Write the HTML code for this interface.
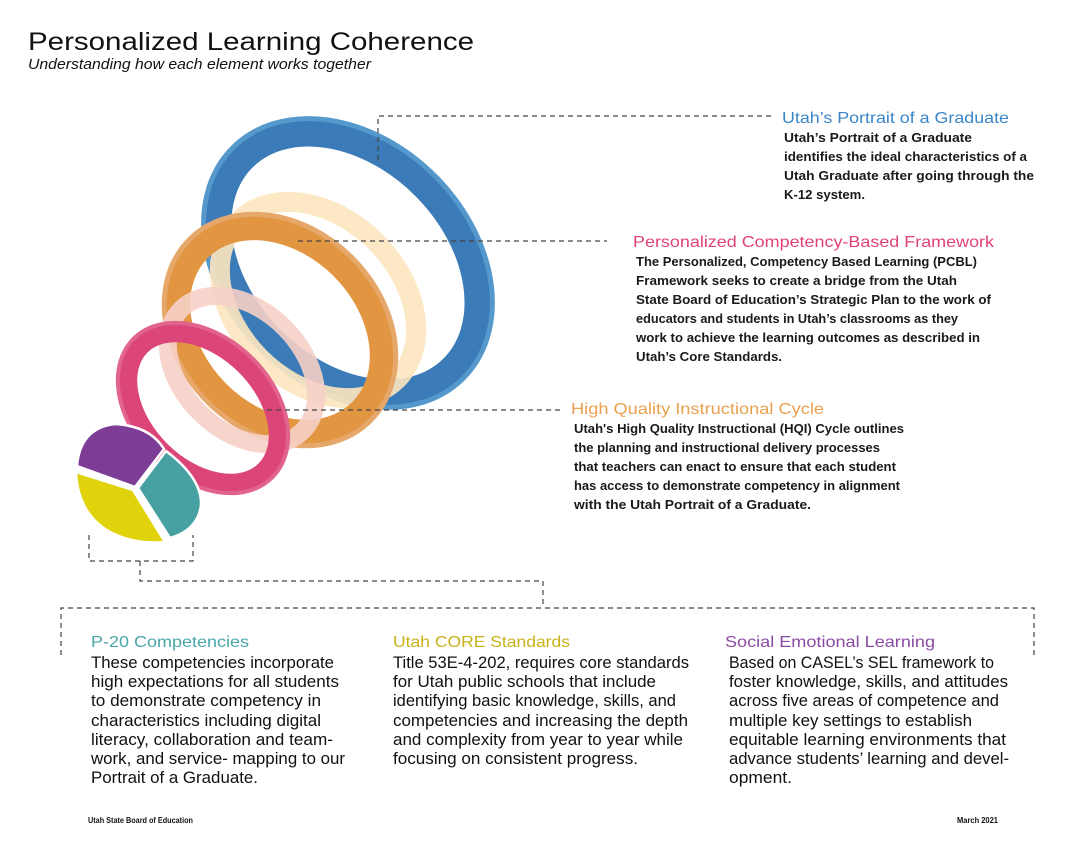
<!DOCTYPE html>
<html><head><meta charset="utf-8"><style>
html,body{margin:0;padding:0;background:#fff;}
svg{display:block;}
.t{font-family:"Liberation Sans",sans-serif;}
.b{font-family:"Liberation Sans",sans-serif;font-size:13px;font-weight:bold;fill:#1a1a1a;}
.n{font-family:"Liberation Sans Narrow","Liberation Sans",sans-serif;font-size:16.5px;fill:#111;}
.d{stroke:#444;stroke-width:1.2;stroke-dasharray:5,4;fill:none;}
</style></head><body>
<svg width="1089" height="856" viewBox="0 0 1089 856" xmlns="http://www.w3.org/2000/svg">
<rect width="1089" height="856" fill="#fff"/>
<text class="t" x="28" y="50" font-size="25" fill="#111" textLength="446" lengthAdjust="spacingAndGlyphs">Personalized Learning Coherence</text>
<text class="t" x="28" y="69" font-size="15" font-style="italic" fill="#111" textLength="343" lengthAdjust="spacingAndGlyphs">Understanding how each element works together</text>

<!-- rings -->
<g transform="translate(348,263) rotate(45)">
  <ellipse rx="150" ry="110" fill="none" stroke="#3b7bb8" stroke-width="30"/>
  <ellipse rx="163" ry="123" fill="none" stroke="#5598cb" stroke-width="5"/>
</g>
<g transform="translate(318,300) rotate(45)">
  <ellipse rx="112" ry="82" fill="none" stroke="#fde6bf" stroke-width="20" opacity="0.9"/>
</g>
<g transform="translate(280,330) rotate(45)">
  <ellipse rx="116" ry="90" fill="none" stroke="#e29642" stroke-width="28"/>
  <ellipse rx="128" ry="102" fill="none" stroke="#e6a86a" stroke-width="5"/>
</g>
<g transform="translate(242,370) rotate(45)">
  <ellipse rx="86" ry="60" fill="none" stroke="#f6cfc6" stroke-width="18" opacity="0.9"/>
</g>
<g transform="translate(203,408) rotate(45)">
  <ellipse rx="89" ry="61" fill="none" stroke="#dc4577" stroke-width="21"/>
  <ellipse rx="98" ry="70" fill="none" stroke="#e2648d" stroke-width="4"/>
</g>
<!-- pie -->
<g stroke="#fff" stroke-width="2.5" stroke-linejoin="round">
  <path d="M135,487 L77,466 Q80,428 115,424 Q150,426 164,449 Z" fill="#7d3d96"/>
  <path d="M138,488 L166,451 Q202,478 201,505 Q198,530 170,538 Z" fill="#47a1a3"/>
  <path d="M133,490 L76,472 Q78,514 110,532 Q135,545 165,542 Z" fill="#e0d20b"/>
</g>

<!-- dashed connectors -->
<path class="d" d="M378,160 V116 H775"/>
<path class="d" d="M298,241 H607"/>
<path class="d" d="M267,410 H560"/>
<path class="d" d="M89,535 V561 H193 V535"/>
<path class="d" d="M140,561 V581 H543 V608"/>
<path class="d" d="M61,655 V608 H1034 V655"/>

<!-- right texts -->
<text class="t" x="782" y="123" font-size="16" fill="#3a86c8" textLength="227" lengthAdjust="spacingAndGlyphs">Utah’s Portrait of a Graduate</text>
<text class="b" x="784" y="142" textLength="188" lengthAdjust="spacingAndGlyphs">Utah’s Portrait of a Graduate</text>
<text class="b" x="784" y="161" textLength="243" lengthAdjust="spacingAndGlyphs">identifies the ideal characteristics of a</text>
<text class="b" x="784" y="180" textLength="250" lengthAdjust="spacingAndGlyphs">Utah Graduate after going through the</text>
<text class="b" x="784" y="199" textLength="81" lengthAdjust="spacingAndGlyphs">K-12 system.</text>

<text class="t" x="633" y="247" font-size="16" fill="#e0417a" textLength="361" lengthAdjust="spacingAndGlyphs">Personalized Competency-Based Framework</text>
<text class="b" x="636" y="266" textLength="341" lengthAdjust="spacingAndGlyphs">The Personalized, Competency Based Learning (PCBL)</text>
<text class="b" x="636" y="285" textLength="321" lengthAdjust="spacingAndGlyphs">Framework seeks to create a bridge from the Utah</text>
<text class="b" x="636" y="304" textLength="355" lengthAdjust="spacingAndGlyphs">State Board of Education’s Strategic Plan to the work of</text>
<text class="b" x="636" y="323" textLength="322" lengthAdjust="spacingAndGlyphs">educators and students in Utah’s classrooms as they</text>
<text class="b" x="636" y="342" textLength="344" lengthAdjust="spacingAndGlyphs">work to achieve the learning outcomes as described in</text>
<text class="b" x="636" y="361" textLength="146" lengthAdjust="spacingAndGlyphs">Utah’s Core Standards.</text>

<text class="t" x="571" y="414" font-size="16" fill="#eba04f" textLength="253" lengthAdjust="spacingAndGlyphs">High Quality Instructional Cycle</text>
<text class="b" x="574" y="433" textLength="330" lengthAdjust="spacingAndGlyphs">Utah's High Quality Instructional (HQI) Cycle outlines</text>
<text class="b" x="574" y="452" textLength="306" lengthAdjust="spacingAndGlyphs">the planning and instructional delivery processes</text>
<text class="b" x="574" y="471" textLength="322" lengthAdjust="spacingAndGlyphs">that teachers can enact to ensure that each student</text>
<text class="b" x="574" y="490" textLength="326" lengthAdjust="spacingAndGlyphs">has access to demonstrate competency in alignment</text>
<text class="b" x="574" y="509" textLength="237" lengthAdjust="spacingAndGlyphs">with the Utah Portrait of a Graduate.</text>

<!-- bottom columns -->
<text class="t" x="91" y="647" font-size="16" fill="#47a6a8" textLength="158" lengthAdjust="spacingAndGlyphs">P-20 Competencies</text>
<text class="n" x="91" y="668" textLength="243" lengthAdjust="spacingAndGlyphs">These competencies incorporate</text>
<text class="n" x="91" y="687" textLength="248" lengthAdjust="spacingAndGlyphs">high expectations for all students</text>
<text class="n" x="91" y="706" textLength="230" lengthAdjust="spacingAndGlyphs">to demonstrate competency in</text>
<text class="n" x="91" y="726" textLength="230" lengthAdjust="spacingAndGlyphs">characteristics including digital</text>
<text class="n" x="91" y="745" textLength="242" lengthAdjust="spacingAndGlyphs">literacy, collaboration and team-</text>
<text class="n" x="91" y="764" textLength="254" lengthAdjust="spacingAndGlyphs">work, and service- mapping to our</text>
<text class="n" x="91" y="783" textLength="167" lengthAdjust="spacingAndGlyphs">Portrait of a Graduate.</text>

<text class="t" x="393" y="647" font-size="16" fill="#c9b11a" textLength="177" lengthAdjust="spacingAndGlyphs">Utah CORE Standards</text>
<text class="n" x="393" y="668" textLength="296" lengthAdjust="spacingAndGlyphs">Title 53E-4-202, requires core standards</text>
<text class="n" x="393" y="687" textLength="263" lengthAdjust="spacingAndGlyphs">for Utah public schools that include</text>
<text class="n" x="393" y="706" textLength="283" lengthAdjust="spacingAndGlyphs">identifying basic knowledge, skills, and</text>
<text class="n" x="393" y="726" textLength="295" lengthAdjust="spacingAndGlyphs">competencies and increasing the depth</text>
<text class="n" x="393" y="745" textLength="290" lengthAdjust="spacingAndGlyphs">and complexity from year to year while</text>
<text class="n" x="393" y="764" textLength="245" lengthAdjust="spacingAndGlyphs">focusing on consistent  progress.</text>

<text class="t" x="725" y="647" font-size="16" fill="#8b4aa3" textLength="210" lengthAdjust="spacingAndGlyphs">Social Emotional Learning</text>
<text class="n" x="729" y="668" textLength="265" lengthAdjust="spacingAndGlyphs">Based on CASEL’s SEL framework to</text>
<text class="n" x="729" y="687" textLength="279" lengthAdjust="spacingAndGlyphs">foster knowledge, skills, and attitudes</text>
<text class="n" x="729" y="706" textLength="270" lengthAdjust="spacingAndGlyphs">across five areas of competence and</text>
<text class="n" x="729" y="726" textLength="243" lengthAdjust="spacingAndGlyphs">multiple key settings to establish</text>
<text class="n" x="729" y="745" textLength="277" lengthAdjust="spacingAndGlyphs">equitable learning environments that</text>
<text class="n" x="729" y="764" textLength="280" lengthAdjust="spacingAndGlyphs">advance students’ learning and devel-</text>
<text class="n" x="729" y="783" textLength="63" lengthAdjust="spacingAndGlyphs">opment.</text>

<text class="t" x="88" y="823" font-size="8" font-weight="bold" fill="#111" textLength="105" lengthAdjust="spacingAndGlyphs">Utah State Board of Education</text>
<text class="t" x="957" y="823" font-size="8" font-weight="bold" fill="#111" textLength="41" lengthAdjust="spacingAndGlyphs">March 2021</text>
</svg>
</body></html>
